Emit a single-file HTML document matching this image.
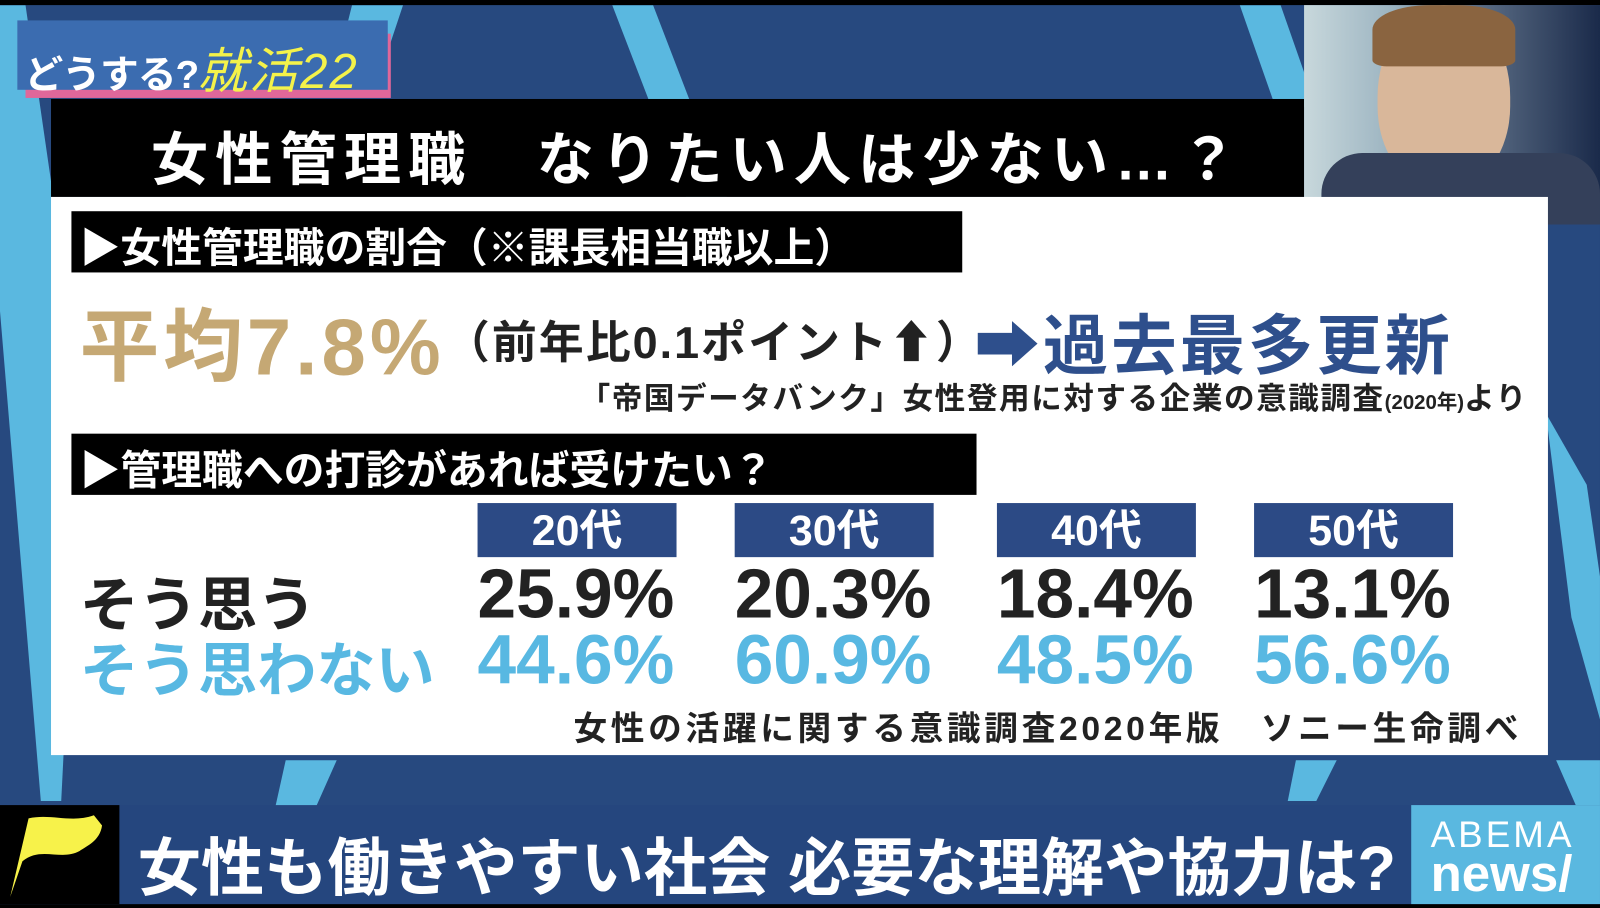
<!DOCTYPE html>
<html><head><meta charset="utf-8"><style>
*{margin:0;padding:0;box-sizing:border-box}
body{width:1600px;height:904px;overflow:hidden;background:#000;font-family:"Liberation Sans","Noto Sans CJK JP",sans-serif;font-weight:bold}
#w{position:absolute;left:0;top:0;width:1568px;height:886px;transform:scale(1.0204);transform-origin:0 0}
.a{position:absolute;white-space:nowrap}
#bg{position:absolute;left:0;top:5px;width:1568px;height:881px;background:#27497f;overflow:hidden}
</style></head><body><div id="w">
<div id="bg">
<svg width="1568" height="881" style="position:absolute;left:0;top:0">
<polygon points="0,0 25,0 80,380 60,780 40,780 0,300" fill="#5ab8e0"/>
<polygon points="600,0 640,0 740,260 700,260" fill="#5ab8e0"/>
<polygon points="345,0 395,0 375,60 330,60" fill="#5ab8e0"/>
<polygon points="1215,0 1255,0 1290,100 1250,100" fill="#5ab8e0"/>
<polygon points="1515,400 1555,470 1568,560 1568,700 1540,600" fill="#5ab8e0"/>
<polygon points="280,740 330,740 310,785 270,785" fill="#5ab8e0"/>
<polygon points="1525,740 1568,740 1568,860 1560,820" fill="#5ab8e0"/>
<polygon points="1270,740 1310,740 1290,780 1262,780" fill="#5ab8e0"/>
</svg>
</div>
<!-- logo -->
<div class="a" style="left:25px;top:33px;width:358px;height:63px;background:#e0679a"></div>
<div class="a" style="left:17px;top:20px;width:363px;height:68px;background:#3b6cb0"></div>
<div class="a" style="left:24px;top:30px;font-size:38px;color:#fff;letter-spacing:-1px">どうする?<span style="color:#f4f24a;font-style:italic;font-weight:normal;font-size:48px;letter-spacing:2px">就活22</span></div>
<!-- title -->
<div class="a" style="left:50px;top:97px;width:1228px;height:96px;background:#000"></div>
<div class="a" style="left:148px;top:112px;font-size:56px;color:#fff;letter-spacing:7px">女性管理職　なりたい人は少ない…？</div>
<!-- photo -->
<div class="a" style="left:1278px;top:5px;width:290px;height:215px;background:linear-gradient(90deg,#c8d8dc 0%,#9bb3c0 30%,#5a6c84 60%,#1a2a4a 100%)"></div>
<div class="a" style="left:1350px;top:5px;width:130px;height:180px;background:#d9b79a;border-radius:50% 50% 45% 45%"></div>
<div class="a" style="left:1345px;top:5px;width:140px;height:60px;background:#8a6440;border-radius:40% 40% 10% 10%"></div>
<div class="a" style="left:1295px;top:150px;width:273px;height:70px;background:#34405a;border-radius:40px 40px 0 0"></div>
<!-- panel -->
<div class="a" style="left:50px;top:193px;width:1467px;height:547px;background:#fff"></div>
<div class="a" style="left:70px;top:207px;width:873px;height:60px;background:#000"></div>
<div class="a" style="left:78px;top:211px;font-size:40px;color:#fff">▶女性管理職の割合（※課長相当職以上）</div>
<div class="a" style="left:78px;top:278px;font-size:78px;color:#c5a874;letter-spacing:4px">平均7.8%</div>
<div class="a" style="left:436px;top:300px;font-size:44px;color:#222;letter-spacing:2px">（前年比0.1ポイント⬆）</div>
<div class="a" style="left:955px;top:288px;font-size:64px;color:#2e4f8c;letter-spacing:3px">➡過去最多更新</div>
<div class="a" style="left:568px;top:366px;font-size:30px;color:#222;letter-spacing:1.5px">「帝国データバンク」女性登用に対する企業の意識調査<span style="font-size:20px;letter-spacing:0">(2020年)</span>より</div>
<div class="a" style="left:70px;top:425px;width:887px;height:60px;background:#000"></div>
<div class="a" style="left:78px;top:429px;font-size:40px;color:#fff">▶管理職への打診があれば受けたい？</div>
<div class="a" style="left:468px;top:493px;width:195px;height:53px;background:#2c4a85;color:#fff;font-size:42px;text-align:center;line-height:53px">20代</div>
<div class="a" style="left:720px;top:493px;width:195px;height:53px;background:#2c4a85;color:#fff;font-size:42px;text-align:center;line-height:53px">30代</div>
<div class="a" style="left:977px;top:493px;width:195px;height:53px;background:#2c4a85;color:#fff;font-size:42px;text-align:center;line-height:53px">40代</div>
<div class="a" style="left:1229px;top:493px;width:195px;height:53px;background:#2c4a85;color:#fff;font-size:42px;text-align:center;line-height:53px">50代</div>
<div class="a" style="left:78px;top:546px;font-size:58px;color:#222">そう思う</div>
<div class="a" style="left:78px;top:610px;font-size:58px;color:#58b8e2">そう思わない</div>
<div class="a" style="left:468px;top:543px;font-size:68px;color:#222;width:1000px">25.9%<span style="position:absolute;left:252px">20.3%</span><span style="position:absolute;left:509px">18.4%</span><span style="position:absolute;left:761px">13.1%</span></div>
<div class="a" style="left:468px;top:608px;font-size:68px;color:#58b8e2;width:1000px">44.6%<span style="position:absolute;left:252px">60.9%</span><span style="position:absolute;left:509px">48.5%</span><span style="position:absolute;left:761px">56.6%</span></div>
<div class="a" style="left:562px;top:687px;font-size:33px;color:#222;letter-spacing:3.6px">女性の活躍に関する意識調査2020年版　ソニー生命調べ</div>
<!-- bottom -->
<div class="a" style="left:0;top:789px;width:1568px;height:97px;background:#25467e"></div>
<div class="a" style="left:0;top:789px;width:117px;height:97px;background:#000"></div>
<svg class="a" style="left:0;top:789px" width="117" height="97"><path d="M28,13 C50,8 70,18 92,10 L100,20 C98,35 85,40 78,45 C60,55 40,40 22,55 L10,90 Z" fill="#f7f24a"/></svg>
<div class="a" style="left:135px;top:800px;font-size:62px;color:#fff;letter-spacing:0">女性も働きやすい社会 必要な理解や協力は?</div>
<div class="a" style="left:1383px;top:789px;width:185px;height:97px;background:#5ab8e0"></div>
<div class="a" style="left:1402px;top:797px;font-size:36px;color:#fff;font-weight:normal;letter-spacing:3px">ABEMA</div>
<div class="a" style="left:1402px;top:828px;font-size:50px;color:#fff;line-height:56px">news/</div>
</div></body></html>
